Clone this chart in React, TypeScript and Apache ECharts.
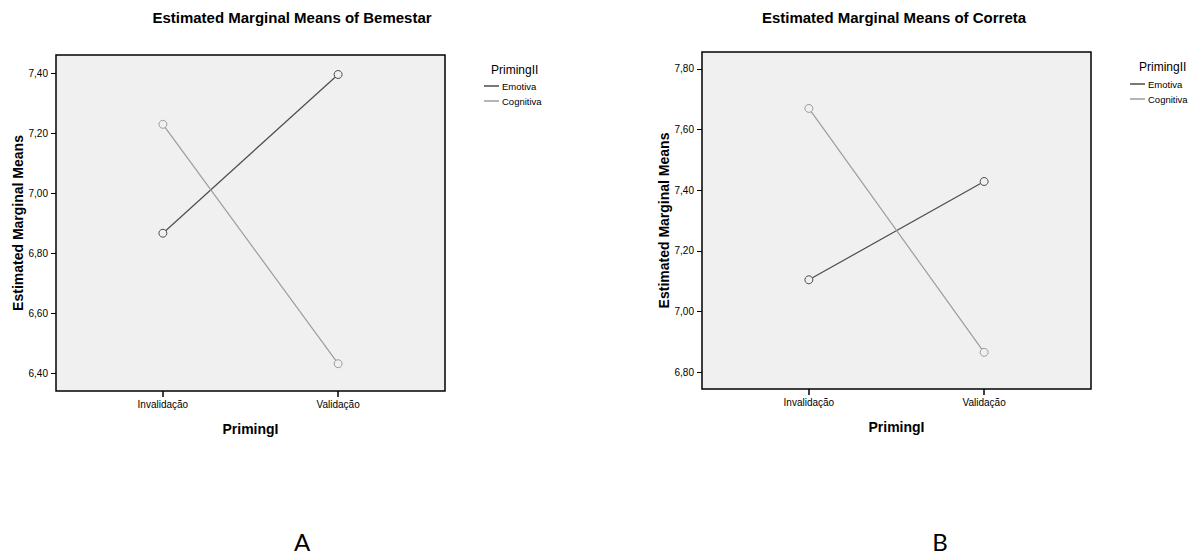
import React, { useEffect, useRef } from "react";
import * as echarts from "echarts";

const categories = ["Invalidação", "Validação"];
const seriesNames = ["Emotiva", "Cognitiva"];
const bemestarEmotiva = [6.866, 7.395];
const bemestarCognitiva = [7.229, 6.431];
const corretaEmotiva = [7.105, 7.429];
const corretaCognitiva = [7.67, 6.866];
const ticksA = [6.4, 6.6, 6.8, 7.0, 7.2, 7.4];
const ticksB = [6.8, 7.0, 7.2, 7.4, 7.6, 7.8];
const titles = ["Estimated Marginal Means of Bemestar", "Estimated Marginal Means of Correta"];
const panelLabels = ["A", "B"];

const colors = ["#4d4d4d", "#9c9c9c"];
const FONT = "'Liberation Sans', Arial, sans-serif";

const toPts = (vals: number[]) => vals.map((v, i) => [i, v]);
const fmt = (v: number) => v.toFixed(2).replace(".", ",");

export default function App() {
  const ref = useRef<HTMLDivElement>(null);
  useEffect(() => {
    if (!ref.current) return;
    const chart = echarts.init(ref.current, undefined, { renderer: "svg" });

    const grids = [
      { left: 56, top: 55, width: 389, height: 336 },
      { left: 702, top: 52, width: 389, height: 337 },
    ];
    const yRanges = [
      { min: 6.34, max: 7.46, ticks: ticksA },
      { min: 6.745, max: 7.856, ticks: ticksB },
    ];

    const xAxes = grids.map((_, i) => ({
      type: "value",
      gridIndex: i,
      position: "bottom",
      min: -0.61,
      max: 1.61,
      name: "PrimingI",
      nameLocation: "middle",
      nameGap: 31,
      nameTextStyle: { fontFamily: FONT, fontSize: 14, fontWeight: "bold", color: "#000" },
      axisLine: { show: false, onZero: false },
      splitLine: { show: false },
      axisTick: { show: true, inside: false, length: 6, customValues: [0, 1], lineStyle: { color: "#000", width: 1.5 } },
      axisLabel: {
        customValues: [0, 1],
        formatter: (v: number) => categories[Math.round(v)] ?? "",
        fontFamily: FONT,
        fontSize: 10,
        color: "#000",
        margin: 8,
      },
    }));

    const yAxes = yRanges.map((r, i) => ({
      type: "value",
      gridIndex: i,
      position: "left",
      min: r.min,
      max: r.max,
      name: "Estimated Marginal Means",
      nameLocation: "middle",
      nameGap: 31,
      nameTextStyle: { fontFamily: FONT, fontSize: 14, fontWeight: "bold", color: "#000" },
      axisLine: { show: false, onZero: false },
      splitLine: { show: false },
      axisTick: { show: true, inside: false, length: 5, customValues: r.ticks, lineStyle: { color: "#000", width: 1 } },
      axisLabel: {
        customValues: r.ticks,
        formatter: (v: number) => fmt(v),
        fontFamily: FONT,
        fontSize: 10,
        color: "#000",
        margin: 8,
      },
    }));

    const data = [
      [bemestarEmotiva, bemestarCognitiva],
      [corretaEmotiva, corretaCognitiva],
    ];
    const series: any[] = [];
    data.forEach((pair, gi) => {
      pair.forEach((vals, si) => {
        series.push({
          type: "line",
          name: seriesNames[si],
          xAxisIndex: gi,
          yAxisIndex: gi,
          data: toPts(vals),
          color: colors[si],
          symbol: "circle",
          symbolSize: 8,
          lineStyle: { color: colors[si], width: 1.2 },
          itemStyle: { color: "#f0f0f0", borderColor: colors[si], borderWidth: 1 },
          emphasis: { disabled: true },
          z: 3,
        });
      });
    });

    const legendPos = [
      { left: 484, top: 80.5 },
      { left: 1130, top: 78.5 },
    ];
    const legends = legendPos.map((p) => ({
      left: p.left,
      top: p.top,
      orient: "vertical",
      padding: 0,
      itemGap: 4,
      itemWidth: 15,
      itemHeight: 1.5,
      icon: "rect",
      selectedMode: false,
      data: seriesNames.map((n, i) => ({ name: n, itemStyle: { color: colors[i], borderWidth: 0 } })),
      textStyle: { fontFamily: FONT, fontSize: 9.5, color: "#000", lineHeight: 11, padding: [0, 0, 0, -2] },
    }));

    const txt = (text: string, x: number, y: number, font: string, align = "center") => ({
      type: "text",
      x,
      y,
      silent: true,
      style: {
        text,
        font,
        fill: "#000",
        textAlign: align,
        textVerticalAlign: "middle",
        align,
        verticalAlign: "middle",
      },
    });

    const graphic = [
      txt(titles[0], 292, 17, `bold 15px ${FONT}`),
      txt(titles[1], 894, 17, `bold 15px ${FONT}`),
      txt("PrimingII", 491, 70, `12px ${FONT}`, "left"),
      txt("PrimingII", 1139, 67, `12px ${FONT}`, "left"),
      txt(panelLabels[0], 302, 541, `24px Lato, 'Open Sans', sans-serif`),
      txt(panelLabels[1], 940, 541, `24px Lato, 'Open Sans', sans-serif`),
    ];

    chart.setOption({
      animation: false,
      backgroundColor: "#fff",
      grid: grids.map((g) => ({
        ...g,
        show: true,
        backgroundColor: "#f0f0f0",
        borderColor: "#000",
        borderWidth: 1.5,
        containLabel: false,
      })),
      xAxis: xAxes,
      yAxis: yAxes,
      legend: legends,
      series,
      graphic,
    });
    return () => chart.dispose();
  }, []);

  return (
    <div
      ref={ref}
      style={{ position: "fixed", left: 0, top: 0, width: 1202, height: 557, background: "#fff" }}
    />
  );
}
